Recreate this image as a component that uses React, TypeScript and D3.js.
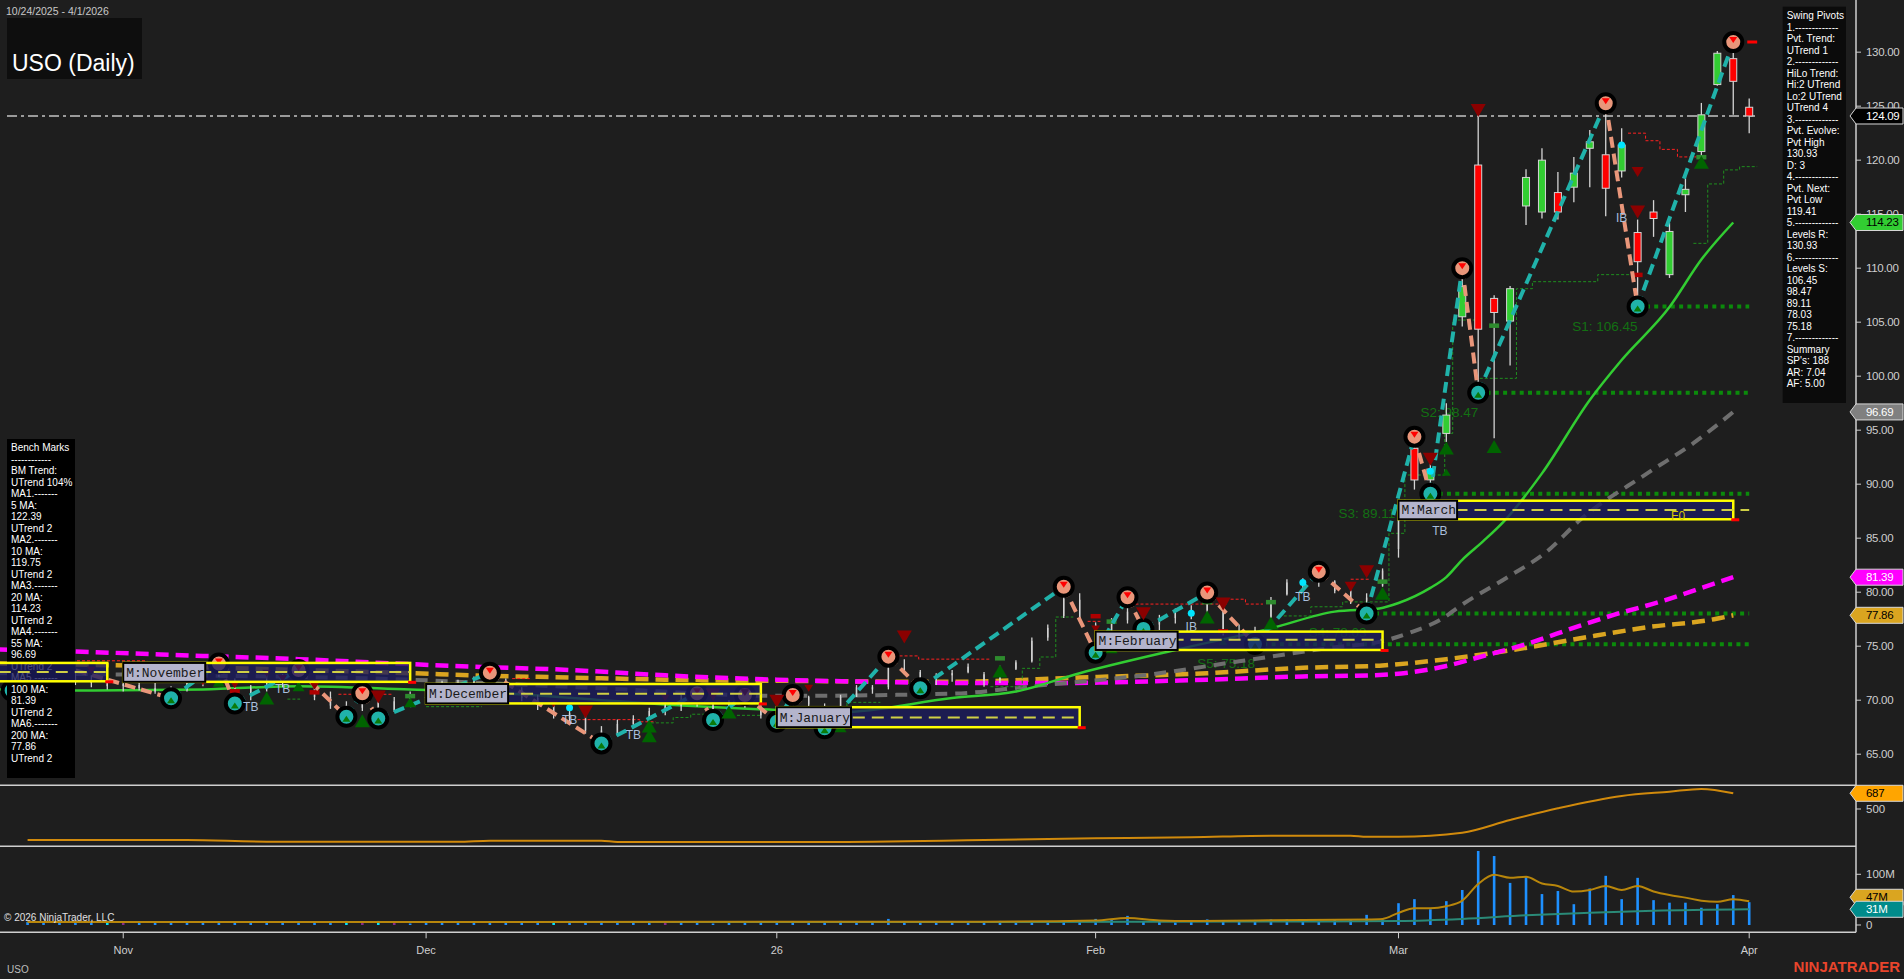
import React from "react";
import * as d3 from "d3";

// ---------------- DATA ----------------
const dates: string[] = [
  "2025-10-24","2025-10-27","2025-10-28","2025-10-29","2025-10-30","2025-10-31",
  "2025-11-03","2025-11-04","2025-11-05","2025-11-06","2025-11-07","2025-11-10","2025-11-11","2025-11-12","2025-11-13","2025-11-14","2025-11-17","2025-11-18","2025-11-19","2025-11-20","2025-11-21","2025-11-24","2025-11-25","2025-11-26","2025-11-28",
  "2025-12-01","2025-12-02","2025-12-03","2025-12-04","2025-12-05","2025-12-08","2025-12-09","2025-12-10","2025-12-11","2025-12-12","2025-12-15","2025-12-16","2025-12-17","2025-12-18","2025-12-19","2025-12-22","2025-12-23","2025-12-24","2025-12-26","2025-12-29","2025-12-30","2025-12-31",
  "2026-01-02","2026-01-05","2026-01-06","2026-01-07","2026-01-08","2026-01-09","2026-01-12","2026-01-13","2026-01-14","2026-01-15","2026-01-16","2026-01-20","2026-01-21","2026-01-22","2026-01-23","2026-01-26","2026-01-27","2026-01-28","2026-01-29","2026-01-30",
  "2026-02-02","2026-02-03","2026-02-04","2026-02-05","2026-02-06","2026-02-09","2026-02-10","2026-02-11","2026-02-12","2026-02-13","2026-02-17","2026-02-18","2026-02-19","2026-02-20","2026-02-23","2026-02-24","2026-02-25","2026-02-26","2026-02-27",
  "2026-03-02","2026-03-03","2026-03-04","2026-03-05","2026-03-06","2026-03-09","2026-03-10","2026-03-11","2026-03-12","2026-03-13","2026-03-16","2026-03-17","2026-03-18","2026-03-19","2026-03-20","2026-03-23","2026-03-24","2026-03-25","2026-03-26","2026-03-27","2026-03-30","2026-03-31",
  "2026-04-01",
];

const opens: number[] = [
  71.5,72.0,72.6,72.2,71.6,71.8,
  71.3,71.4,71.1,70.8,71.0,71.9,72.5,71.8,70.3,71.1,71.8,71.6,71.2,70.3,69.5,69.3,69.8,69.1,69.9,
  70.6,71.2,70.9,71.6,71.8,71.8,70.9,70.2,69.6,68.8,68.3,67.2,66.9,67.8,68.3,69.0,69.5,69.9,69.5,68.9,69.8,69.4,
  68.6,69.0,70.3,69.4,68.9,70.3,71.2,71.2,73.0,72.6,71.9,72.3,72.6,72.4,71.9,72.9,73.6,75.8,77.8,79.3,
  77.0,75.6,77.4,78.0,77.0,77.6,78.2,78.3,78.2,76.4,76.0,77.6,79.8,80.7,80.9,81.0,80.1,79.2,80.6,
  84.0,93.32,90.4,94.7,105.5,119.55,107.2,105.1,115.76,115.2,117.0,117.5,121.1,120.5,119.0,113.3,115.2,109.4,116.8,120.8,127.0,129.4,
  124.9,
];
const highs: number[] = [
  72.2,73.0,73.2,72.6,72.3,72.0,
  71.8,71.9,71.9,71.3,72.2,72.8,73.4,72.0,71.4,72.0,72.4,72.8,71.5,70.8,69.9,70.64,70.0,70.3,70.8,
  71.6,71.8,71.9,72.2,72.55,72.0,71.2,70.5,69.7,69.4,68.7,67.6,68.2,68.6,69.3,69.8,70.5,70.64,69.8,70.0,70.48,69.7,
  69.2,70.48,70.4,69.7,70.5,71.4,71.4,74.03,73.8,72.8,72.5,72.8,73.4,72.6,73.2,73.7,75.8,77.0,80.51,79.9,
  77.2,77.6,79.53,78.4,77.9,78.5,78.8,79.96,78.5,77.0,76.8,79.55,81.2,81.3,81.9,81.1,80.4,79.9,82.2,
  88.3,94.4,91.9,97.5,110.0,124.5,107.5,108.35,119.15,121.1,118.9,120.3,122.8,125.27,122.95,114.5,116.3,114.2,118.5,125.3,130.1,130.93,
  125.7,
];
const lows: number[] = [
  70.8,71.6,72.0,71.4,71.2,71.0,
  70.8,70.9,70.6,70.18,70.8,71.3,72.0,69.7,70.0,70.8,71.2,71.0,70.0,69.2,68.47,69.0,68.3,68.9,69.5,
  70.3,70.6,70.7,71.1,71.3,70.6,69.9,69.1,68.3,68.0,66.9,66.0,66.7,67.4,68.0,68.6,69.0,69.4,68.17,68.6,69.3,68.3,
  68.0,68.8,69.4,67.4,68.6,70.3,70.6,71.0,72.4,71.1,71.4,71.7,72.5,71.25,71.6,72.8,73.5,75.5,77.6,77.3,
  74.4,75.3,77.1,76.6,76.5,77.1,77.5,78.0,76.0,75.6,75.2,77.6,79.7,80.1,80.5,79.9,78.9,78.03,80.5,
  83.2,89.5,89.11,93.9,104.6,98.47,94.25,101.0,114.0,114.6,114.5,116.1,117.5,114.8,118.4,106.45,112.9,109.1,115.2,120.3,126.9,124.2,
  122.5,
];
const closes: number[] = [
  71.8,72.6,72.3,71.6,71.9,71.3,
  71.5,71.1,70.8,71.0,71.9,72.5,72.2,70.2,71.1,71.8,71.6,71.2,70.3,69.5,69.2,70.1,69.0,69.9,70.5,
  71.3,70.9,71.6,71.8,72.0,70.9,70.2,69.6,68.7,68.3,67.2,66.8,67.8,68.3,69.0,69.5,69.9,69.7,68.9,69.8,69.5,68.6,
  68.9,70.0,69.6,68.9,70.3,71.2,71.0,73.0,72.6,71.9,72.2,72.5,73.1,71.8,72.9,73.5,75.5,76.7,79.4,77.6,
  75.5,77.3,78.2,77.0,77.6,78.2,78.3,79.2,76.4,76.1,76.5,79.0,80.9,80.9,81.2,80.1,79.2,79.5,82.0,
  87.6,90.39,91.4,96.4,108.3,104.35,105.9,108.1,118.4,120.0,115.2,118.8,121.7,117.4,121.4,110.6,114.6,113.4,117.3,124.2,129.9,127.3,
  124.09,
];
// volume in millions
const volumes: number[] = [
  6,5,7,6,5,8,
  7,5,6,5,6,7,5,6,5,7,6,5,6,5,8,7,8,6,3,
  6,5,7,6,5,6,5,6,5,7,6,8,5,6,5,7,5,4,3,6,5,4,
  7,6,5,6,8,6,5,12,7,6,5,6,7,6,8,6,7,6,6,9,
  12,11,18,7,8,5,8,11,8,8,10,11,11,11,7,11,10,20,11,
  43,51,31,47,69,146,136,83,95,61,67,41,72,97,51,93,49,44,44,34,41,59,
  45,
];
const volCyan: number[] = [5, 20, 22, 33];
const volPurple: number[] = [6, 21, 23, 40];

// moving averages: [bar index, value]
const ma20: [number, number][] = [
  [-2,71.0],[3,70.9],[11,71.0],[17,71.3],[24,71.0],[28,70.8],[36,70.0],[40,69.6],[47,69.1],[51,68.9],
  [58,70.2],[62,70.8],[66,72.5],[72,74.65],[78,76.65],[82,78.2],[84.8,78.5],[86,79.0],[88,80.4],[89,81.4],
  [90,83.0],[91.3,84.7],[92.7,86.7],[95,91.0],[98,97.8],[100,101.5],[103,106.4],[105,110.8],[107,114.23],
];
const ma55: [number, number][] = [
  [-2,72.5],[10,72.3],[24,71.9],[30,71.5],[36,71.1],[47,70.4],[58,70.6],[63,71.3],[70,72.3],[76,73.6],
  [82,74.9],[84.8,75.4],[86.9,76.35],[88.8,77.6],[89.8,78.66],[92.9,81.44],[95.3,83.75],[97.4,86.7],[101.6,91.0],[104.5,93.8],[107,96.69],
];
const ma100: [number, number][] = [
  [-2,74.7],[3,74.5],[11,74.1],[17,73.8],[23,73.4],[28,73.1],[34,72.8],[40,72.3],[47,71.9],[53,71.7],
  [58,71.6],[65,71.6],[74,71.9],[80,72.2],[84.8,72.33],[89,73.17],[91.1,74.0],[93.8,75.1],[97.4,76.9],[99.5,77.9],
  [102.6,79.2],[105.8,80.8],[107,81.39],
];
const ma200: [number, number][] = [
  [-2,73.4],[3,73.3],[17,72.8],[24,72.5],[28,72.3],[34,72.1],[40,71.9],[47,71.8],[58,71.7],[66,72.1],
  [74,72.5],[80,73.0],[84.8,73.2],[89,73.8],[93.8,74.8],[97.4,75.73],[101.6,76.75],[105.8,77.5],[107,77.86],
];

// swing pivots: [bar index, price, type]
const pivots: [number, number, "H" | "L"][] = [
  [-1,70.9,"L"],[2,73.2,"H"],[9,70.18,"L"],[12,73.4,"H"],[13,69.7,"L"],[17,72.8,"H"],[20,68.47,"L"],[21,70.64,"H"],
  [22,68.3,"L"],[29,72.55,"H"],[36,66.0,"L"],[42,70.64,"H"],[43,68.17,"L"],[45,70.48,"H"],[47,68.0,"L"],[48,70.48,"H"],
  [50,67.4,"L"],[54,74.03,"H"],[56,71.1,"L"],[65,80.51,"H"],[67,74.4,"L"],[69,79.53,"H"],[70,76.6,"L"],[74,79.96,"H"],
  [77,75.2,"L"],[81,81.9,"H"],[84,78.03,"L"],[87,94.4,"H"],[88,89.11,"L"],[90,110.0,"H"],[91,98.47,"L"],[99,125.27,"H"],
  [101,106.45,"L"],[107,130.93,"H"],
];

// support levels: [label, price, start bar, label end bar]
const supports: [string, number, number, number][] = [
  ["S1", 106.45, 101, 101], ["S2", 98.47, 91, 91], ["S3", 89.11, 88, 85.8], ["S4", 78.03, 84, 84], ["S5", 75.18, 77, 77],
];
const resistanceLevel = 130.93;
const lastPrice = 124.09;

// monthly boxes: [label, start bar, end bar, top, bottom, mid]
const monthBoxes: [string, number, number, number, number, number][] = [
  ["", -3, 5, 73.45, 71.75, 72.6],
  ["M:November", 6, 24, 73.45, 71.7, 72.6],
  ["M:December", 25, 46, 71.5, 69.7, 70.6],
  ["M:January", 47, 66, 69.35, 67.5, 68.4],
  ["M:February", 67, 85, 76.35, 74.65, 75.6],
  ["M:March", 86, 107, 88.47, 86.75, 87.6],
];

// signal triangles: [bar, price, direction, size]
const signals: [number, number, "d" | "u", "s" | "m" | "L"][] = [
  [2,72.8,"d","s"],[4,72.8,"d","s"],[11,71.7,"d","s"],[13,71.4,"d","s"],[15,72.5,"d","s"],[16,72.0,"d","s"],
  [18,71.3,"d","s"],[22,70.3,"d","L"],[29,70.85,"d","s"],[33,69.65,"d","s"],[35,68.9,"d","L"],[40,70.2,"d","s"],
  [43,70.5,"d","L"],[45,70.75,"d","s"],[47,69.9,"d","L"],[49,71.1,"d","s"],[55,75.85,"d","L"],[67,76.6,"d","s"],
  [70,78.0,"d","L"],[75,78.9,"d","L"],[83,80.5,"d","m"],[84,81.9,"d","L"],[88,92.3,"d","L"],[91,124.6,"d","L"],
  [101,118.9,"d","m"],[101,115.2,"d","L"],
  [12,71.7,"u","m"],[15,70.2,"u","L"],[17,71.3,"u","m"],[21,68.1,"u","L"],[24,69.8,"u","m"],[39,67.6,"u","L"],
  [39,66.7,"u","L"],[44,68.9,"u","L"],[51,67.5,"u","m"],[61,72.7,"u","L"],[68,74.8,"u","m"],[74,77.7,"u","L"],
  [75,75.4,"u","s"],[78,77.15,"u","L"],[85,79.9,"u","L"],[89,93.35,"u","L"],[89,91.1,"u","s"],[92,93.5,"u","L"],
  [105,119.8,"u","L"],
];
// small stop markers: [bar, price]
const greenMarks: [number, number][] = [[24,70.4],[61,73.9],[68,77.3],[74,79.1],[78,79.1],[85,81.0],[92,104.7],[105,120.3]];
const redMarks: [number, number][] = [[13,70.85],[18,70.75],[67,77.8],[70,76.5],[75,76.4],[84,78.8],[101,109.4]];
const tbLabels: [number, number, string][] = [
  [14,69.4,"TB"],[16,71.0,"TB"],[34,68.2,"TB"],[38,66.8,"TB"],[73,76.75,"IB"],[80,79.6,"TB"],[88.6,85.7,"TB"],[100,114.6,"IB"],
];
const cyanDots: [number, number][] = [[100,121.4],[73,78.05],[80,80.9],[88,91.2],[34,69.3]];

// trailing step lines: groups of [startBar, endBar, price]
const redSteps: [number, number, number][][] = [
  [[3.1,7.5,73.65]],
  [[19.5,22.9,70.55]],
  [[30.4,31.5,72.0]],
  [[34.5,38.4,68.2],[38.4,39.4,68.0]],
  [[54.7,55.9,74.1],[55.9,60.4,73.8]],
  [[66.5,67.3,77.3]],
  [[69.5,75.2,78.9],[75.2,76.4,79.35],[76.4,77.5,78.9]],
  [[83,84.2,81.2]],
  [[100.4,101.5,122.5],[101.5,102.4,121.8],[102.4,103.5,121.0],[103.5,104.7,120.3]],
];
const greenSteps: [number, number, number][][] = [
  [[16.3,17.1,70.1]],
  [[25,28.5,69.4]],
  [[39.1,40.5,67.9],[40.5,41.6,68.4],[41.6,43.2,68.7]],
  [[44.5,46,68.6]],
  [[50.5,51.4,69.4],[51.4,53.5,69.8]],
  [[60.4,62.4,71.25],[62.4,63.5,72.95],[63.5,64.5,74.0],[64.5,65.6,77.7]],
  [[78.8,80.5,77.8],[80.5,82.5,78.65],[82.5,85.4,79.1],[85.4,86.4,85.45],[86.4,88.9,90.85],[88.9,89.4,94.7],[89.4,90.9,105.2]],
  [[91.1,93.4,99.8],[93.4,94.4,108.1],[94.4,98.5,108.75],[98.5,101,109.4]],
  [[104.5,105.4,112.3],[105.4,106.4,117.8],[106.4,107.4,119.1],[107.4,108.5,119.4]],
];

// lower indicator (orange): [bar, value]
const indicator: [number, number][] = [
  [0,131],[10,131],[15,111],[27,111],[29,123],[36,123],[37,107],[50,107],[60,130],[67,151],[73,163],
  [78,182],[83,182],[84,170],[86,170],[90,218],[93,369],[96,508],[100,655],[103,706],[105,738],[107,687],
];
// volume moving averages (millions): [bar, value]
const volMaShort: [number, number][] = [
  [0,6],[30,6],[60,6.5],[67,9],[69,14],[71,9],[73,8],[77,9],[80,10],[84,11],[85,12],[86,24],[87,33],[88,33],
  [89,37],[90,48],[91,81],[92,99],[93,93],[94,95],[95,82],[96,77],[97,66],[98,69],[99,77],[100,69],[101,77],
  [102,66],[103,59],[104,54],[105,48],[106,46],[107,51],[108,47],
];
const volMaLong: [number, number][] = [
  [0,6],[30,6],[60,6],[80,7],[86,8],[90,12],[94,19],[98,24],[102,28],[108,31],
];

const priceTicks: number[] = [65,70,75,80,85,90,95,100,105,110,115,120,125,130];
const monthTicks: [string, string][] = [
  ["2025-11-03","Nov"],["2025-12-01","Dec"],["2026-01-02","26"],["2026-02-02","Feb"],["2026-03-02","Mar"],["2026-04-01","Apr"],
];

const benchLines: string[] = [
  "Bench Marks","------------","BM Trend:","UTrend 104%","MA1.-------","5 MA:","122.39","UTrend 2","MA2.-------",
  "10 MA:","119.75","UTrend 2","MA3.-------","20 MA:","114.23","UTrend 2","MA4.-------","55 MA:","96.69","UTrend 2",
  "MA5.-------","100 MA:","81.39","UTrend 2","MA6.-------","200 MA:","77.86","UTrend 2",
];
const swingLines: string[] = [
  "Swing Pivots","1.-------------","Pvt. Trend:","UTrend 1","2.-------------","HiLo Trend:","Hi:2 UTrend","Lo:2 UTrend",
  "UTrend 4","3.-------------","Pvt. Evolve:","Pvt High","130.93","D: 3","4.-------------","Pvt. Next:","Pvt Low","119.41",
  "5.-------------","Levels R:","130.93","6.-------------","Levels S:","106.45","98.47","89.11","78.03","75.18",
  "7.-------------","Summary","SP's: 188","AR: 7.04","AF: 5.00",
];

// ---------------- LAYOUT ----------------
const AXIS_X = 1856;
const MAIN_BOTTOM = 785.3;
const IND_BOTTOM = 846.3;
const VOL_BOTTOM = 932.3;
const FONT = "'Liberation Sans', Arial, Helvetica, sans-serif";
const FIRST_PAINTED_BAR = 87; // earlier bars show only as wicks in the reference

const x = d3.scaleLinear().domain([-1.73, 114.7]).range([0, AXIS_X]);
const y = d3.scaleLinear().domain([62.12, 134.83]).range([MAIN_BOTTOM, 0]);
const yInd = d3.scaleLinear().domain([56, 782]).range([IND_BOTTOM, MAIN_BOTTOM]);
const yVol = d3.scaleLinear().domain([-14.4, 155.2]).range([VOL_BOTTOM, IND_BOTTOM]);
const idxOf = new Map(dates.map((d, i) => [d, i] as [string, number]));

const priceLine = d3.line<[number, number]>().x((d) => x(d[0])).y((d) => y(d[1])).curve(d3.curveMonotoneX);
const indLine = d3.line<[number, number]>().x((d) => x(d[0])).y((d) => yInd(d[1])).curve(d3.curveMonotoneX);
const volLine = d3.line<[number, number]>().x((d) => x(d[0])).y((d) => yVol(d[1])).curve(d3.curveMonotoneX);
const straight = d3.line<[number, number]>().x((d) => x(d[0])).y((d) => y(d[1]));

function stepPath(segs: [number, number, number][]) {
  const p = d3.path();
  segs.forEach((s, i) => {
    if (i === 0) p.moveTo(x(s[0]), y(s[2]));
    else p.lineTo(x(s[0]), y(s[2]));
    p.lineTo(x(s[1]), y(s[2]));
  });
  return p.toString();
}

function Tag({ cy, text, fill, color }: { cy: number; text: string; fill: string; color: string }) {
  return (
    <g>
      <path
        d={`M1850,${cy} L1856,${cy - 8} L1903,${cy - 8} L1903,${cy + 8} L1856,${cy + 8} Z`}
        fill={fill}
        stroke="#d8d8d8"
        strokeWidth={1}
      />
      <text x={1866} y={cy + 4} fill={color} fontSize={11.5} fontFamily={FONT} letterSpacing={-0.3}>
        {text}
      </text>
    </g>
  );
}

const triSize = { s: [4.5, 7], m: [6, 10], L: [7.5, 13] } as const;

export default function App() {
  const bodyW = 7;
  const volLongLast = volMaLong[volMaLong.length - 1][1];
  const volShortLast = volMaShort[volMaShort.length - 1][1];
  const longTagY = yVol(volLongLast);
  // keep the two volume tags from overlapping: push the upper one up
  const shortTagY = Math.min(yVol(volShortLast), longTagY - 12);
  return (
    <svg
      width={1904}
      height={979}
      style={{ position: "fixed", left: 0, top: 0, display: "block", background: "#1e1e1e" }}
      fontFamily={FONT}
    >
      <defs>
        <clipPath id="mainClip">
          <rect x={0} y={0} width={AXIS_X} height={MAIN_BOTTOM} />
        </clipPath>
        <clipPath id="lowClip">
          <rect x={0} y={MAIN_BOTTOM} width={AXIS_X} height={VOL_BOTTOM - MAIN_BOTTOM} />
        </clipPath>
      </defs>
      <rect x={0} y={0} width={1904} height={979} fill="#1e1e1e" />

      <g clipPath="url(#mainClip)">
        {/* support dotted lines */}
        {supports.map(([lab, p, s]) => (
          <line key={lab} x1={x(s)} x2={x(108)} y1={y(p)} y2={y(p)} stroke="#0b8a0b" strokeWidth={4} strokeDasharray="4 4.3" />
        ))}
        {/* support labels (drawn under the boxes, as in the reference) */}
        {supports.map(([lab, p, , le]) => (
          <text key={"sl" + lab} x={x(le)} y={y(p) + 24} fill="#137013" fontSize={13.5} textAnchor="end">
            {`${lab}: ${p.toFixed(2)}`}
          </text>
        ))}
        {/* moving averages */}
        <path d={priceLine(ma200) || ""} fill="none" stroke="#DAA520" strokeWidth={4.5} strokeDasharray="13 7" />
        <path d={priceLine(ma100) || ""} fill="none" stroke="#FF00FF" strokeWidth={4.5} strokeDasharray="13 7" />
        <path d={priceLine(ma55) || ""} fill="none" stroke="#6e6e6e" strokeWidth={4} strokeDasharray="12 8" />
        <path d={priceLine(ma20) || ""} fill="none" stroke="#32CD32" strokeWidth={2.5} />

        {/* trailing step lines */}
        {redSteps.map((g, i) => (
          <path key={"r" + i} d={stepPath(g)} fill="none" stroke="#ff2020" strokeWidth={1} strokeDasharray="3 2" />
        ))}
        {greenSteps.map((g, i) => (
          <path key={"g" + i} d={stepPath(g)} fill="none" stroke="#1f8f1f" strokeWidth={1} strokeDasharray="3 2" />
        ))}

        {/* last price dash-dot */}
        <line x1={7} x2={1755} y1={y(lastPrice)} y2={y(lastPrice)} stroke="#9a9a9a" strokeWidth={2} strokeDasharray="10 4 3 4" />
        {/* resistance */}
        <line x1={x(107)} x2={x(108.5)} y1={y(resistanceLevel)} y2={y(resistanceLevel)} stroke="#ff0000" strokeWidth={3} strokeDasharray="10 4" />

        {/* candles */}
        {dates.map((d, i) => {
          const o = opens[i], h = highs[i], l = lows[i], c = closes[i];
          const up = c >= o;
          const painted = i >= FIRST_PAINTED_BAR;
          const top = y(Math.max(o, c));
          const bh = Math.max(1.5, Math.abs(y(o) - y(c)));
          const w = painted ? bodyW : 1.4;
          return (
            <g key={d}>
              <line x1={x(i)} x2={x(i)} y1={y(h)} y2={y(l)} stroke="#d4d4d4" strokeWidth={1.3} />
              <rect
                x={x(i) - w / 2}
                y={top}
                width={w}
                height={bh}
                fill={painted ? (up ? "#32CD32" : "#ff0000") : "#d4d4d4"}
                stroke={painted ? "#d4d4d4" : "none"}
                strokeWidth={1}
              />
            </g>
          );
        })}

        {/* markers */}
        {greenMarks.map(([i, p], k) => (
          <rect key={"gm" + k} x={x(i) - 5} y={y(p) - 2} width={10} height={4.5} fill="#2e8b2e" />
        ))}
        {redMarks.map(([i, p], k) => (
          <rect key={"rm" + k} x={x(i) - 5} y={y(p) - 2} width={10} height={4.5} fill="#b00000" />
        ))}

        {/* zigzag */}
        {pivots.slice(1).map((pv, k) => {
          const prev = pivots[k];
          const up = pv[2] === "H";
          return (
            <path
              key={"z" + k}
              d={straight([[prev[0], prev[1]], [pv[0], pv[1]]]) || ""}
              stroke={up ? "#20B2AA" : "#E9967A"}
              strokeWidth={4}
              strokeDasharray="11 6"
              fill="none"
            />
          );
        })}
        {/* pivot circles */}
        {pivots.map(([i, p, t], k) => {
          const cx = x(i), cy = y(p);
          const hi = t === "H";
          return (
            <g key={"pc" + k}>
              <circle cx={cx} cy={cy} r={9} fill={hi ? "#E9967A" : "#20B2AA"} stroke="#000" strokeWidth={4} />
              {hi ? (
                <path d={`M${cx - 4},${cy - 5} L${cx + 4},${cy - 5} L${cx},${cy + 1} Z`} fill="#ff0000" />
              ) : (
                <path d={`M${cx - 4},${cy + 5} L${cx + 4},${cy + 5} L${cx},${cy - 1} Z`} fill="#0a7a0a" />
              )}
            </g>
          );
        })}

        {/* signal triangles */}
        {signals.map(([i, p, dir, s], k) => {
          const [hw, h] = triSize[s];
          const cx = x(i), cy = y(p);
          const d =
            dir === "d"
              ? `M${cx - hw},${cy - h / 2} L${cx + hw},${cy - h / 2} L${cx},${cy + h / 2} Z`
              : `M${cx - hw},${cy + h / 2} L${cx + hw},${cy + h / 2} L${cx},${cy - h / 2} Z`;
          return <path key={"t" + k} d={d} fill={dir === "d" ? "#8B0000" : "#006400"} />;
        })}

        {/* cyan dots and TB labels */}
        {cyanDots.map(([i, p], k) => (
          <circle key={"cd" + k} cx={x(i)} cy={y(p)} r={3.5} fill="#00e5ff" />
        ))}
        {tbLabels.map(([i, p, t], k) => (
          <text key={"tb" + k} x={x(i)} y={y(p) + 4} fill="#a9bfdc" fontSize={12} textAnchor="middle">
            {t}
          </text>
        ))}

        {/* bench marks panel */}
        <rect x={7} y={439} width={68} height={339} fill="#000" />
        {benchLines.map((t, k) => (
          <text key={"b" + k} x={11} y={451.2 + k * 11.5} fill="#ffffff" fontSize={10}>
            {t}
          </text>
        ))}

        {/* monthly boxes */}
        {monthBoxes.map(([lab, s, e, top, bot, mid], k) => {
          const x0 = x(s), x1 = x(e);
          const y0 = y(top), y1 = y(bot);
          const lw = lab.length * 7.8 + 4;
          const midEnd = k === monthBoxes.length - 1 ? x(108) : x1;
          return (
            <g key={"mb" + k}>
              <rect x={x0} y={y0} width={x1 - x0} height={y1 - y0} fill="#1c1c5e" fillOpacity={0.8} stroke="#ffff00" strokeWidth={2.5} />
              <line x1={x0} x2={midEnd} y1={y(mid)} y2={y(mid)} stroke="#cfcf45" strokeWidth={2} strokeDasharray="12 7" />
              <rect x={x1 - 2} y={y1 - 1} width={8} height={3} fill="#ff0000" />
              {lab && (
                <g>
                  <rect x={x0} y={y0} width={lw} height={y1 - y0} fill="#b4b4cc" stroke="#000" strokeWidth={2} />
                  <text x={x0 + 3} y={(y0 + y1) / 2 + 4.5} fill="#1a1a1a" fontSize={13} fontFamily="'Liberation Mono', 'Courier New', monospace">
                    {lab}
                  </text>
                </g>
              )}
            </g>
          );
        })}
        <text x={x(103.1)} y={y(86.75) + 1} fill="#d8c800" fontSize={12}>
          F0
        </text>

        {/* title */}
        <rect x={7} y={18} width={135} height={61} fill="#0e0e0e" />
        <text x={12} y={70.5} fill="#ffffff" fontSize={23}>
          USO (Daily)
        </text>
        <text x={6} y={14.5} fill="#c8c8c8" fontSize={10.5}>
          10/24/2025 - 4/1/2026
        </text>

        {/* swing pivots panel */}
        <rect x={1782.7} y={6.7} width={63.3} height={396.3} fill="#0b0b0b" />
        {swingLines.map((t, k) => (
          <text key={"s" + k} x={1786.7} y={19.2 + k * 11.5} fill="#ffffff" fontSize={10}>
            {t}
          </text>
        ))}
      </g>

      {/* lower panels */}
      <g clipPath="url(#lowClip)">
        <path d={indLine(indicator) || ""} fill="none" stroke="#d18a0c" strokeWidth={2} />
        {volumes.map((v, i) => (
          <rect
            key={"v" + i}
            x={x(i) - 1.3}
            y={yVol(v)}
            width={2.6}
            height={yVol(0) - yVol(v)}
            fill={volCyan.includes(i) ? "#00e5ff" : volPurple.includes(i) ? "#8a2b8a" : "#1E90FF"}
          />
        ))}
        <path d={volLine(volMaLong) || ""} fill="none" stroke="#2a8a78" strokeWidth={2} />
        <path d={volLine(volMaShort) || ""} fill="none" stroke="#b8860b" strokeWidth={2} />
        <text x={4} y={921} fill="#e0e0e0" fontSize={10}>
          © 2026 NinjaTrader, LLC
        </text>
      </g>

      {/* panel separators and axis */}
      {[MAIN_BOTTOM, IND_BOTTOM, VOL_BOTTOM].map((yy) => (
        <line key={"sep" + yy} x1={0} x2={AXIS_X} y1={yy} y2={yy} stroke="#cfcfcf" strokeWidth={1.5} />
      ))}
      <line x1={AXIS_X} x2={AXIS_X} y1={0} y2={VOL_BOTTOM} stroke="#cfcfcf" strokeWidth={1.5} />

      {priceTicks.map((t) => (
        <g key={"pt" + t}>
          <line x1={AXIS_X} x2={AXIS_X + 5} y1={y(t)} y2={y(t)} stroke="#cfcfcf" />
          <text x={1866} y={y(t) + 4} fill="#cfcfcf" fontSize={11.5} letterSpacing={-0.3}>
            {t.toFixed(2)}
          </text>
        </g>
      ))}
      <line x1={AXIS_X} x2={AXIS_X + 5} y1={yInd(500)} y2={yInd(500)} stroke="#cfcfcf" />
      <text x={1866} y={yInd(500) + 4} fill="#cfcfcf" fontSize={11.5}>
        500
      </text>
      {[0, 100].map((t) => (
        <g key={"vt" + t}>
          <line x1={AXIS_X} x2={AXIS_X + 5} y1={yVol(t)} y2={yVol(t)} stroke="#cfcfcf" />
          <text x={1866} y={yVol(t) + 4} fill="#cfcfcf" fontSize={11.5}>
            {t === 0 ? "0" : `${t}M`}
          </text>
        </g>
      ))}

      {monthTicks.map(([d, lab]) => {
        const xx = x(idxOf.get(d) as number);
        return (
          <g key={"mt" + d}>
            <line x1={xx} x2={xx} y1={VOL_BOTTOM} y2={VOL_BOTTOM + 6} stroke="#cfcfcf" />
            <text x={xx} y={954} fill="#cfcfcf" fontSize={11} textAnchor="middle">
              {lab}
            </text>
          </g>
        );
      })}

      {/* value tags */}
      <Tag cy={y(lastPrice)} text={lastPrice.toFixed(2)} fill="#000" color="#fff" />
      <Tag cy={y(ma20[ma20.length - 1][1])} text={ma20[ma20.length - 1][1].toFixed(2)} fill="#32CD32" color="#000" />
      <Tag cy={y(ma55[ma55.length - 1][1])} text={ma55[ma55.length - 1][1].toFixed(2)} fill="#808080" color="#fff" />
      <Tag cy={y(ma100[ma100.length - 1][1])} text={ma100[ma100.length - 1][1].toFixed(2)} fill="#FF00FF" color="#fff" />
      <Tag cy={y(ma200[ma200.length - 1][1])} text={ma200[ma200.length - 1][1].toFixed(2)} fill="#DAA520" color="#000" />
      <Tag cy={yInd(indicator[indicator.length - 1][1])} text={String(indicator[indicator.length - 1][1])} fill="#FFA500" color="#000" />
      <Tag cy={shortTagY} text={`${volShortLast}M`} fill="#DAA520" color="#000" />
      <Tag cy={longTagY} text={`${volLongLast}M`} fill="#008B8B" color="#fff" />

      <text x={7} y={973} fill="#bdbdbd" fontSize={10}>
        USO
      </text>
      <text x={1900} y={972} fill="#e8452c" fontSize={15} fontWeight="bold" textAnchor="end">
        NINJATRADER
      </text>
    </svg>
  );
}
